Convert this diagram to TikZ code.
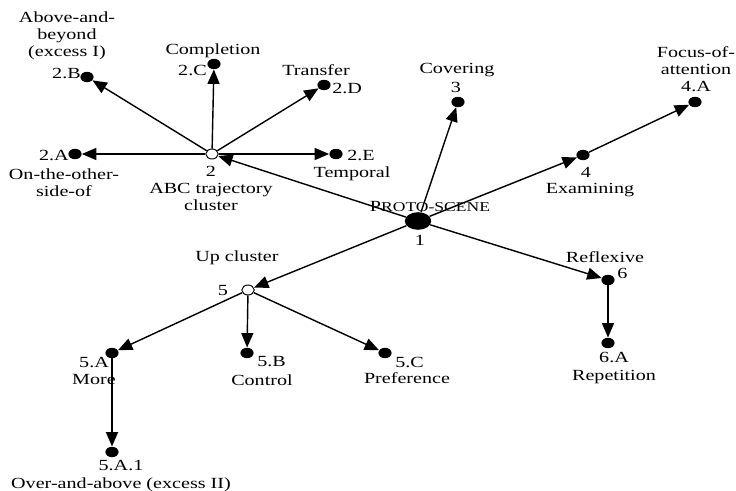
\documentclass[tikz,border=0pt]{standalone}
\usepackage{fontspec}
\setmainfont[FakeStretch=1.3]{Liberation Serif}
\usepackage{tikz}
\usetikzlibrary{arrows.meta,shapes.geometric}

\begin{document}
\begin{tikzpicture}[x=0.025cm,y=-0.025cm,
  dot/.style={ellipse,fill=black,inner sep=0pt,minimum width=0.33cm,minimum height=0.26cm},
  hollow/.style={ellipse,draw=black,fill=white,line width=0.7pt,inner sep=0pt,minimum width=0.31cm,minimum height=0.25cm},
  bigdot/.style={ellipse,fill=black,inner sep=0pt,minimum width=0.66cm,minimum height=0.44cm},
  lbl/.style={inner sep=0pt,align=center,font=\fontsize{11}{12.2}\selectfont},
  arr/.style={line width=1pt,-{Triangle[length=0.36cm,width=0.3cm]}}]
\useasboundingbox (0,0) rectangle (736,491);
% points
\node[bigdot] (ps) at (418,221) {};
\node[hollow] (n2) at (212,154) {};
\node[dot] (n2A) at (75,154) {};
\node[dot] (n2B) at (87,77) {};
\node[dot] (n2C) at (214,64) {};
\node[dot] (n2D) at (324,85) {};
\node[dot] (n2E) at (336,154) {};
\node[dot] (n3) at (458,102) {};
\node[dot] (n4) at (583,155) {};
\node[dot] (n4A) at (695,102) {};
\node[hollow] (n5) at (248,290) {};
\node[dot] (n5A) at (112,353) {};
\node[dot] (n5A1) at (112,452) {};
\node[dot] (n5B) at (247,353) {};
\node[dot] (n5C) at (385,353) {};
\node[dot] (n6) at (608,280) {};
\node[dot] (n6A) at (608,343) {};
% labels
\node[lbl] (tps) at (430,207) {P{\fontsize{9.6}{10}\selectfont ROTO-SCENE}};
\node[lbl] (t1) at (420,240) {1};
\node[lbl,anchor=north] (t2) at (211,166) {2\\ABC trajectory\\cluster};
\node[lbl,anchor=east] (t2A) at (69,155) {2.A};
\node[lbl] (t2Ax) at (64,183) {On-the-other-\\side-of};
\node[lbl,anchor=east] (t2B) at (81,73) {2.B};
\node[lbl] (t2Bx) at (67,36) {Above-and-\\beyond\\(excess I)};
\node[lbl,anchor=east] (t2C) at (207,70) {2.C};
\node[lbl] (t2Cx) at (213,51) {Completion};
\node[lbl,anchor=west] (t2D) at (332,88) {2.D};
\node[lbl] (t2Dx) at (316,70) {Transfer};
\node[lbl,anchor=west] (t2E) at (347,155) {2.E};
\node[lbl] (t2Ex) at (352,174) {Temporal};
\node[lbl] (t3) at (456,87) {3};
\node[lbl] (t3x) at (457,70) {Covering};
\node[lbl] (t4) at (586,172) {4};
\node[lbl] (t4x) at (590,190) {Examining};
\node[lbl] (t4A) at (696,69) {Focus-of-\\attention\\4.A};
\node[lbl] (t5) at (223,291) {5};
\node[lbl] (t5x) at (237,258) {Up cluster};
\node[lbl] (t5A) at (94,371) {5.A\\More};
\node[lbl] (t5A1) at (121,476) {5.A.1\\Over-and-above (excess II)};
\node[lbl,anchor=west] (t5B) at (257,362) {5.B};
\node[lbl] (t5Bx) at (262,380) {Control};
\node[lbl,anchor=west] (t5C) at (395,362) {5.C};
\node[lbl] (t5Cx) at (407,378) {Preference};
\node[lbl] (t6x) at (605,257) {Reflexive};
\node[lbl,anchor=west] (t6) at (617,273) {6};
\node[lbl] (t6A) at (614,368) {6.A\\Repetition};
% arrows
\draw[arr] (ps) -- (n2);
\draw[arr] (ps) -- (n3);
\draw[arr] (ps) -- (n4);
\draw[arr] (ps) -- (n5);
\draw[arr] (ps) -- (n6);
\draw[arr] (n2) -- (n2A);
\draw[arr] (n2) -- (n2B);
\draw[arr] (n2) -- (n2C);
\draw[arr] (n2) -- (n2D);
\draw[arr] (n2) -- (n2E);
\draw[arr] (n4) -- (n4A);
\draw[arr] (n5) -- (n5A);
\draw[arr] (n5) -- (n5B);
\draw[arr] (n5) -- (n5C);
\draw[arr] (n5A) -- (n5A1);
\draw[arr] (n6) -- (n6A);
\end{tikzpicture}
\end{document}
